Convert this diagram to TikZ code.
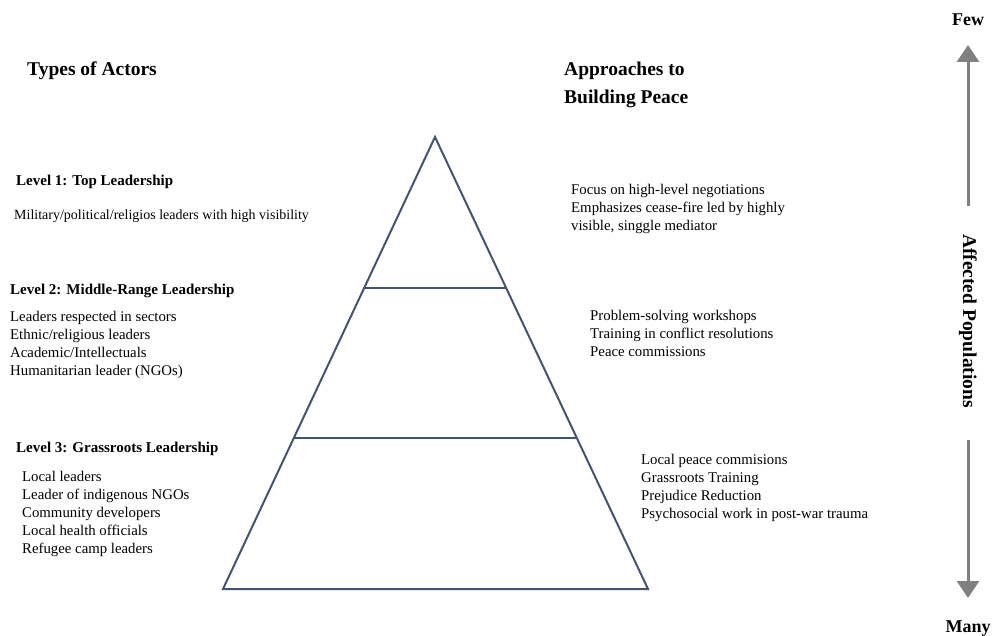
\documentclass[tikz,border=0pt]{standalone}
\usepackage{fontspec}
\setmainfont{Liberation Serif}
\usetikzlibrary{arrows.meta,calc}
\definecolor{pyr}{RGB}{68,84,112}
\definecolor{arr}{RGB}{128,128,128}
\tikzset{
  body/.style={anchor=north west,inner sep=0pt,align=left,font=\fontsize{14.8}{18}\selectfont},
  head/.style={anchor=north west,inner sep=0pt,align=left,font=\fontsize{15}{18}\selectfont\bfseries},
  title/.style={anchor=north west,inner sep=0pt,align=left,font=\fontsize{19.5}{28}\selectfont\bfseries},
  endlabel/.style={inner sep=0pt,font=\fontsize{18}{20}\selectfont\bfseries},
  pyrline/.style={draw=pyr,line width=2pt,line join=miter},
  bigarrow/.style={draw=arr,line width=3pt,-{Triangle[width=22pt,length=17pt]}}
}
\begin{document}
\begin{tikzpicture}[x=1pt,y=-1pt]
\useasboundingbox (0,0) rectangle (1002,636);
% pyramid
\coordinate (A) at (435,137);
\coordinate (BL) at (223,589);
\coordinate (BR) at (648,589);
\coordinate (L1) at ($(A)!1/3!(BL)$);
\coordinate (R1) at ($(A)!1/3!(BR)$);
\coordinate (L2) at ($(A)!2/3!(BL)$);
\coordinate (R2) at ($(A)!2/3!(BR)$);
\draw[pyrline] (A) -- (BL) -- (BR) -- cycle;
\draw[pyrline] (L1) -- (R1);
\draw[pyrline] (L2) -- (R2);
% titles
\node[title] (tA) at (27,62) {Types of Actors};
\node[title] (tB) at (564,62) {Approaches to\\Building Peace};
% left column
\node[head] (h1) at (16,175) {Level 1: Top Leadership};
\node[body,font=\fontsize{14}{18}\selectfont] (b1) at (14,210) {Military/political/religios leaders with high visibility};
\node[head] (h2) at (10,284) {Level 2: Middle-Range Leadership};
\node[body] (b2) at (10,311) {Leaders respected in sectors\\Ethnic/religious leaders\\Academic/Intellectuals\\Humanitarian leader (NGOs)};
\node[head] (h3) at (16,442) {Level 3: Grassroots Leadership};
\node[body] (b3) at (22,471) {Local leaders\\Leader of indigenous NGOs\\Community developers\\Local health officials\\Refugee camp leaders};
% right column
\node[body] (r1) at (571,184) {Focus on high-level negotiations\\Emphasizes cease-fire led by highly\\visible, singgle mediator};
\node[body] (r2) at (590,310) {Problem-solving workshops\\Training in conflict resolutions\\Peace commissions};
\node[body] (r3) at (641,454) {Local peace commisions\\Grassroots Training\\Prejudice Reduction\\Psychosocial work in post-war trauma};
% scale arrow
\node[endlabel,anchor=base] (few) at (968,26) {Few};
\node[endlabel,anchor=base] (many) at (968,632) {Many};
\node[inner sep=0pt,rotate=-90,font=\fontsize{19.5}{22}\selectfont\bfseries] (aff) at (968,321) {Affected Populations};
\coordinate (upS) at (968,206);
\coordinate (upE) at (968,45);
\coordinate (dnS) at (968,440);
\coordinate (dnE) at (968,598);
\draw[bigarrow] (upS) -- (upE);
\draw[bigarrow] (dnS) -- (dnE);
\end{tikzpicture}
\end{document}
